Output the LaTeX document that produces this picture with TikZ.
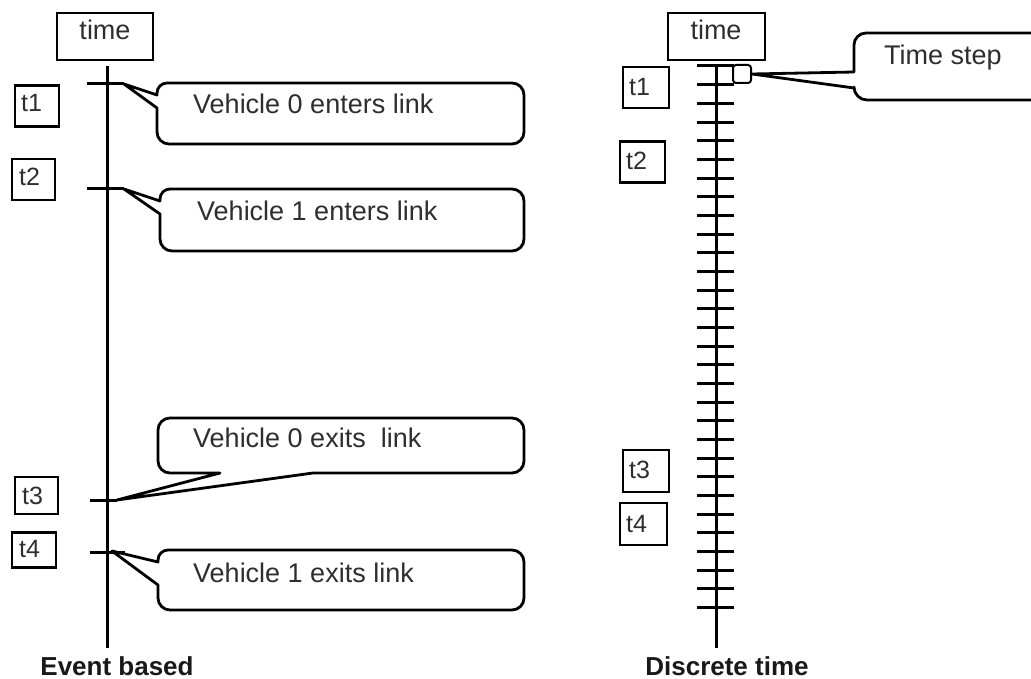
\documentclass[tikz,border=0pt]{standalone}
\usepackage{fontspec}
\setmainfont{Liberation Sans}
\usetikzlibrary{calc}
\begin{document}
\begin{tikzpicture}[x=1pt,y=-1pt,
  ln/.style={line width=3pt, line cap=butt},
  thin/.style={line width=3pt},
  bub/.style={draw, line width=2.8pt, line join=round},
  lbox/.style={draw, line width=2.8pt, inner sep=0pt},
  txt/.style={inner sep=0pt, anchor=base west, text=black!82, font=\fontsize{27}{30}\selectfont},
  ttxt/.style={inner sep=0pt, anchor=base west, text=black!82, font=\fontsize{25}{28}\selectfont},
  ctxt/.style={inner sep=0pt, anchor=base, text=black!82, font=\fontsize{27}{30}\selectfont},
  btxt/.style={inner sep=0pt, anchor=base, text=black!90, font=\fontsize{26}{30}\selectfont\bfseries}]
\clip (0,0) rectangle (1031,679);
\fill[white] (0,0) rectangle (1031,679);

% ---------------- left: event based ----------------
\node[lbox, minimum width=96pt, minimum height=47pt] (timeL) at (105,36.5) {};
\node[ctxt] (timeLt) at (105,40) {time};
\coordinate (axLtop) at (107,66);
\coordinate (axLbot) at (107,648);
\draw[ln] (axLtop) -- (axLbot);

% ticks
\coordinate (e1a) at (87,84);  \coordinate (e1) at (124,84);
\coordinate (e2a) at (87,189); \coordinate (e2) at (124,189);
\coordinate (e3a) at (90,500); \coordinate (e3) at (117,500);
\coordinate (e4a) at (90,552); \coordinate (e4) at (125,552);
\draw[thin] (e1a) -- (e1);
\draw[thin] (e2a) -- (e2);
\draw[thin] (e3a) -- (e3);
\draw[thin] (e4a) -- (e4);

% label boxes
\node[lbox, minimum width=44pt, minimum height=41pt] (L1) at (37,106) {};
\node[ttxt] at (21,112) {t1};
\node[lbox, minimum width=43pt, minimum height=41pt] (L2) at (33.5,179.5) {};
\node[ttxt] at (19,186) {t2};
\node[lbox, minimum width=43pt, minimum height=37pt] (L3) at (36.5,495.5) {};
\node[ttxt] at (22,504) {t3};
\node[lbox, minimum width=44pt, minimum height=35pt] (L4) at (34,550) {};
\node[ttxt] at (19,557) {t4};

% bubbles
\draw[bub] (340,83) [rounded corners=12pt] -- (524,83) -- (524,144) -- (157,144)
  [sharp corners] -- (157,108) -- (e1) -- (157,95) [rounded corners=10pt] -- (157,83) -- cycle;
\node[txt] (b1) at (193,114) {Vehicle 0 enters link};

\draw[bub] (340,189) [rounded corners=12pt] -- (524,189) -- (524,251) -- (160,251)
  [sharp corners] -- (160,214) -- (e2) -- (160,201) [rounded corners=10pt] -- (160,189) -- cycle;
\node[txt] (b2) at (197,221) {Vehicle 1 enters link};

\draw[bub] (340,418) [rounded corners=12pt] -- (524,418) -- (524,473)
  [sharp corners] -- (313,473) -- (e3) -- (220,473) [rounded corners=12pt] -- (158,473) -- (158,418) -- cycle;
\node[txt] (b3) at (193,447) {Vehicle 0 exits\ \ link};

\draw[bub] (340,550) [rounded corners=12pt] -- (524,550) -- (524,610) -- (158,610)
  [sharp corners] -- (158,585) -- (112,551) -- (158,562) [rounded corners=10pt] -- (158,550) -- cycle;
\node[txt] (b4) at (193,582) {Vehicle 1 exits link};

\node[btxt] (evt) at (117,675) {Event based};

% ---------------- right: discrete time ----------------
\node[lbox, minimum width=97pt, minimum height=47pt] (timeR) at (716.5,36.5) {};
\node[ctxt] (timeRt) at (716,40) {time};
\coordinate (axRtop) at (716,66);
\coordinate (axRbot) at (716,648);
\draw[ln] (axRtop) -- (axRbot);
\foreach \k in {0,...,29}{
  \draw[thin] (697,{66+18.67*\k}) -- (734,{66+18.67*\k});
}

\node[lbox, minimum width=46pt, minimum height=41pt] (R1) at (646,87.5) {};
\node[ttxt] at (629,96) {t1};
\node[lbox, minimum width=45pt, minimum height=41pt] (R2) at (642.5,162) {};
\node[ttxt] at (626,170) {t2};
\node[lbox, minimum width=46pt, minimum height=42pt] (R3) at (646,471) {};
\node[ttxt] at (629,478) {t3};
\node[lbox, minimum width=47pt, minimum height=42pt] (R4) at (643.5,524) {};
\node[ttxt] at (626,532) {t4};

% time step marker
\node[draw, line width=2pt, rounded corners=3pt, minimum width=18pt, minimum height=18pt, inner sep=0pt] (stepmark) at (742,74) {};
\coordinate (stip) at (stepmark.east);
\draw[bub] (950,33) [rounded corners=13pt] -- (1045,33) -- (1045,100) -- (854,100)
  [sharp corners] -- (854,88) -- (stip) -- (854,72) [rounded corners=12pt] -- (854,33) -- cycle;
\node[txt] (ts) at (884,65) {Time step};

\node[btxt] (disc) at (727,675) {Discrete time};
\end{tikzpicture}
\end{document}
